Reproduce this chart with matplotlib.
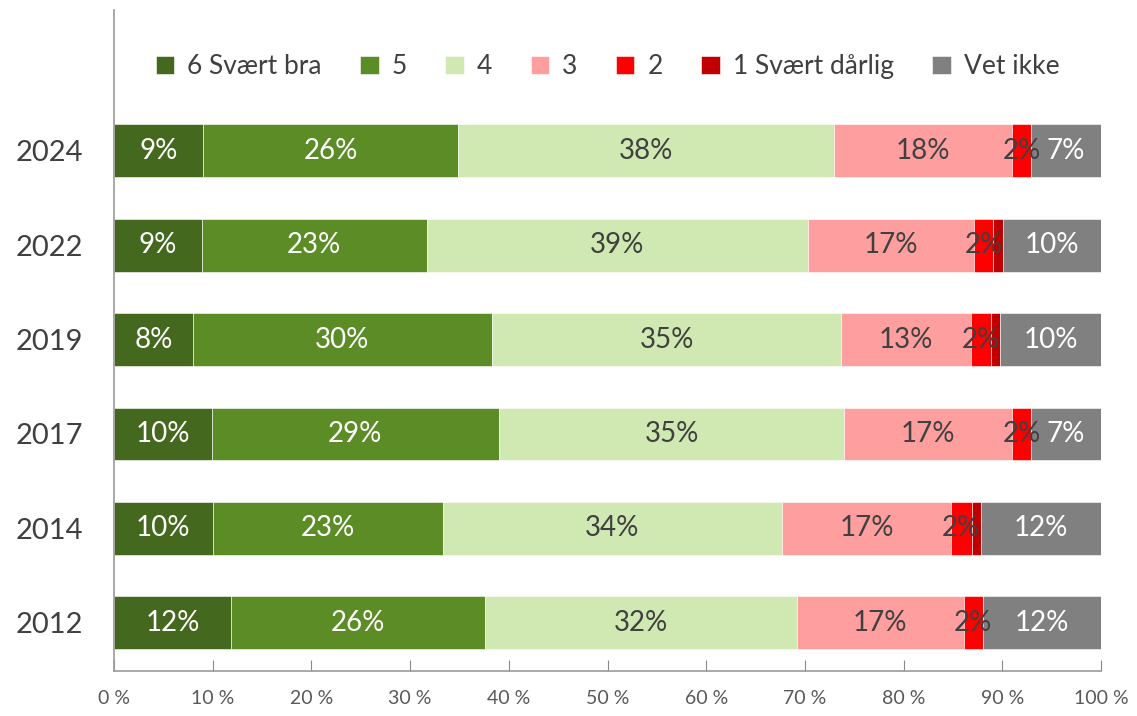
import numpy as np
import matplotlib.pyplot as plt

plt.rcParams['font.family'] = ['Lato', 'DejaVu Sans']

years = ['2012', '2014', '2017', '2019', '2022', '2024']
categories = ['6 Svært bra', '5', '4', '3', '2', '1 Svært dårlig', 'Vet ikke']
colors = ['#44691E', '#5B8C26', '#D0E9B2', '#FF9E9E', '#FF0000', '#C00000', '#808080']
label_colors = ['white', 'white', '#404040', '#404040', '#404040', '#404040', 'white']

# percent per category, in order of years (2012 ... 2024)
s6 = [11.9, 10.0, 9.9, 8.0, 8.9, 9.0]
s5 = [25.7, 23.3, 29.1, 30.3, 22.8, 25.9]
s4 = [31.6, 34.4, 35.0, 35.4, 38.6, 38.0]
s3 = [16.9, 17.1, 17.0, 13.1, 16.8, 18.1]
s2 = [1.9, 2.1, 1.9, 2.1, 2.0, 1.9]
s1 = [0.0, 0.9, 0.0, 0.9, 1.0, 0.0]
vet = [12.0, 12.2, 7.1, 10.2, 9.9, 7.1]
series = [s6, s5, s4, s3, s2, s1, vet]

fig, ax = plt.subplots(figsize=(11.37, 7.16), dpi=100)
fig.subplots_adjust(left=114/1137, right=1101/1137, bottom=1-671/716, top=1-10/716)

y = np.arange(len(years))
left = np.zeros(len(years))
for name, vals, c, lc in zip(categories, series, colors, label_colors):
    vals = np.array(vals)
    ax.barh(y, vals, left=left, height=0.56, color=c, label=name,
            edgecolor='white', linewidth=0.4)
    for yi, (l, v) in enumerate(zip(left, vals)):
        if v >= 1.5:
            ax.text(l + v / 2, yi, f'{round(v):.0f}%', ha='center', va='center',
                    fontsize=20, color=lc)
    left += vals

ax.set_xlim(0, 100)
ax.set_ylim(-0.51, 6.49)
ax.set_yticks(y)
ax.set_yticklabels(years, fontsize=21, color='#404040')
ax.set_xticks(np.arange(0, 101, 10))
ax.set_xticklabels([f'{v} %' for v in range(0, 101, 10)], fontsize=14, color='#595959')
ax.tick_params(axis='x', direction='in', length=8, color='#888888', pad=14)
ax.tick_params(axis='y', length=0, pad=22)
for s in ['top', 'right']:
    ax.spines[s].set_visible(False)
for s in ['left', 'bottom']:
    ax.spines[s].set_color('#999999')
    ax.spines[s].set_linewidth(1.2)

leg = ax.legend(loc='center', bbox_to_anchor=(0.5, 0.914), ncol=7, frameon=False,
                fontsize=19, handlelength=0.7, handleheight=0.7, handletextpad=0.5,
                columnspacing=1.45, labelcolor='#404040')

plt.savefig('out.png', dpi=100)
